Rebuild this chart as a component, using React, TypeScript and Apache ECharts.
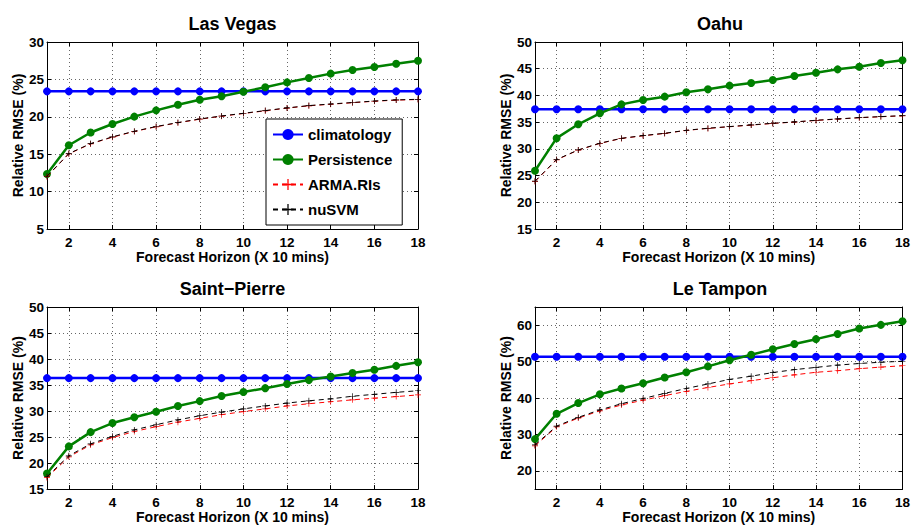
import React, { useEffect, useRef } from "react";
import * as echarts from "echarts";

const HORIZON = [1, 2, 3, 4, 5, 6, 7, 8, 9, 10, 11, 12, 13, 14, 15, 16, 17, 18];
const SITES = ["Las Vegas", "Oahu", "Saint\u2212Pierre", "Le Tampon"];
const SERIES_NAMES = ["climatology", "Persistence", "ARMA.RIs", "nuSVM"];

const LV_CLIM = [23.4, 23.4, 23.4, 23.4, 23.4, 23.4, 23.4, 23.4, 23.4, 23.4, 23.4, 23.4, 23.4, 23.4, 23.4, 23.4, 23.4, 23.4];
const LV_PERS = [12.35, 16.2, 17.9, 19.04, 20.02, 20.86, 21.62, 22.29, 22.74, 23.36, 23.94, 24.6, 25.19, 25.77, 26.26, 26.66, 27.1, 27.5];
const LV_ARMA = [12.0, 15.05, 16.38, 17.28, 18.04, 18.66, 19.2, 19.68, 20.08, 20.44, 20.8, 21.16, 21.47, 21.68, 21.88, 22.08, 22.23, 22.31];
const LV_SVM = [12.05, 15.08, 16.42, 17.32, 18.07, 18.7, 19.23, 19.71, 20.11, 20.47, 20.83, 21.19, 21.5, 21.71, 21.91, 22.11, 22.26, 22.34];

const OA_CLIM = [37.4, 37.4, 37.4, 37.4, 37.4, 37.4, 37.4, 37.4, 37.4, 37.4, 37.4, 37.4, 37.4, 37.4, 37.4, 37.4, 37.4, 37.4];
const OA_PERS = [25.9, 32.0, 34.6, 36.65, 38.33, 39.15, 39.77, 40.58, 41.14, 41.83, 42.33, 42.89, 43.64, 44.26, 44.88, 45.38, 46.07, 46.57];
const OA_ARMA = [23.9, 27.95, 29.77, 31.02, 31.95, 32.45, 32.89, 33.45, 33.83, 34.14, 34.45, 34.76, 35.01, 35.32, 35.57, 35.82, 36.01, 36.18];
const OA_SVM = [23.95, 28.0, 29.8, 31.05, 31.98, 32.48, 32.92, 33.48, 33.86, 34.17, 34.48, 34.79, 35.04, 35.35, 35.6, 35.85, 36.04, 36.21];

const SP_CLIM = [36.33, 36.33, 36.33, 36.33, 36.33, 36.33, 36.33, 36.33, 36.33, 36.33, 36.33, 36.33, 36.33, 36.33, 36.33, 36.33, 36.33, 36.33];
const SP_PERS = [18.0, 23.21, 25.95, 27.69, 28.81, 29.86, 30.98, 31.91, 32.91, 33.65, 34.4, 35.21, 35.95, 36.64, 37.32, 37.94, 38.69, 39.37];
const SP_ARMA = [17.2, 21.2, 23.5, 24.9, 26.07, 27.0, 27.87, 28.6, 29.3, 29.9, 30.42, 30.98, 31.41, 31.79, 32.16, 32.47, 32.78, 33.1];
const SP_SVM = [17.37, 21.4, 23.7, 25.14, 26.38, 27.37, 28.3, 29.1, 29.8, 30.42, 30.98, 31.54, 31.97, 32.35, 32.85, 33.22, 33.6, 33.9];

const LT_CLIM = [51.36, 51.36, 51.36, 51.36, 51.36, 51.36, 51.36, 51.36, 51.36, 51.36, 51.36, 51.36, 51.36, 51.36, 51.36, 51.36, 51.36, 51.36];
const LT_PERS = [28.73, 35.68, 38.62, 41.02, 42.63, 44.05, 45.66, 47.08, 48.69, 50.38, 51.9, 53.4, 54.83, 56.17, 57.6, 59.1, 60.1, 61.07];
const LT_ARMA = [26.86, 32.1, 34.5, 36.5, 38.1, 39.42, 40.67, 41.83, 42.9, 43.88, 44.77, 45.57, 46.37, 47.08, 47.5, 48.06, 48.5, 48.86];
const LT_SVM = [27.13, 32.3, 34.7, 36.75, 38.44, 39.87, 41.29, 42.63, 43.87, 45.12, 46.0, 47.0, 47.8, 48.42, 49.04, 49.49, 49.84, 50.1];

const Y_RANGES = [
  [5, 30],
  [15, 50],
  [15, 50],
  [15, 65],
];

const DATA = [
  [LV_CLIM, LV_PERS, LV_ARMA, LV_SVM],
  [OA_CLIM, OA_PERS, OA_ARMA, OA_SVM],
  [SP_CLIM, SP_PERS, SP_ARMA, SP_SVM],
  [LT_CLIM, LT_PERS, LT_ARMA, LT_SVM],
];

const FONT = "Liberation Sans, Arial, Helvetica, sans-serif";
const PLUS = "path://M3.55,0 H4.45 V3.55 H8 V4.45 H4.45 V8 H3.55 V4.45 H0 V3.55 H3.55 Z";

export default function App() {
  const ref = useRef<HTMLDivElement>(null);

  useEffect(() => {
    document.body.style.margin = "0";
    const chart = echarts.init(ref.current!, null, { renderer: "svg" });

    const grids = [
      { left: 47, top: 42, width: 371, height: 187 },
      { left: 535, top: 42, width: 370, height: 187 },
      { left: 47, top: 307, width: 371, height: 187 },
      { left: 535, top: 307, width: 370, height: 187 },
    ];

    const gridLine = { show: true, lineStyle: { color: "#666", type: [1, 3] as any, width: 1 } };
    const axisLabel = { color: "#000", fontWeight: "bold" as const, fontSize: 13.5, fontFamily: FONT };

    const xAxis: any[] = [];
    const yAxis: any[] = [];
    grids.forEach((_, i) => {
      xAxis.push({
        type: "value",
        gridIndex: i,
        min: 1,
        max: 18,
        splitNumber: 9,
        name: "Forecast Horizon (X 10 mins)",
        nameLocation: "middle",
        nameGap: 15,
        nameTextStyle: { color: "#000", fontWeight: "bold", fontSize: 14, fontFamily: FONT },
        axisLine: { show: true, lineStyle: { color: "#000", width: 1 } },
        axisTick: { show: true, inside: true, length: 4, lineStyle: { color: "#000" } },
        axisLabel: { ...axisLabel, margin: 6, showMinLabel: false },
        splitLine: gridLine,
      });
      xAxis.push({
        type: "value",
        gridIndex: i,
        position: "top",
        min: 1,
        max: 18,
        splitNumber: 9,
        axisLine: { show: true, lineStyle: { color: "#000", width: 1 } },
        axisTick: { show: true, inside: true, length: 4, lineStyle: { color: "#000" } },
        axisLabel: { show: false },
        splitLine: { show: false },
      });
      const [mn, mx] = Y_RANGES[i];
      yAxis.push({
        type: "value",
        gridIndex: i,
        min: mn,
        max: mx,
        splitNumber: i === 3 ? 5 : (mx - mn) / 5,
        name: "Relative RMSE (%)",
        nameLocation: "middle",
        nameGap: 22,
        nameTextStyle: { color: "#000", fontWeight: "bold", fontSize: 14, fontFamily: FONT },
        axisLine: { show: true, lineStyle: { color: "#000", width: 1 } },
        axisTick: { show: true, inside: true, length: 4, lineStyle: { color: "#000" } },
        axisLabel: { ...axisLabel, margin: 3, showMinLabel: i === 3 ? false : true, showMaxLabel: i === 3 ? false : true },
        splitLine: gridLine,
      });
      yAxis.push({
        type: "value",
        gridIndex: i,
        position: "right",
        min: mn,
        max: mx,
        splitNumber: i === 3 ? 5 : (mx - mn) / 5,
        axisLine: { show: true, lineStyle: { color: "#000", width: 1 } },
        axisTick: { show: true, inside: true, length: 4, lineStyle: { color: "#000" } },
        axisLabel: { show: false },
        splitLine: { show: false },
      });
    });

    const styles = [
      { color: "#0000ff", width: 2.5, type: "solid", symbol: "circle", size: 8 },
      { color: "#008000", width: 2.5, type: "solid", symbol: "circle", size: 8 },
      { color: "#ff0000", width: 1, type: [5, 4], symbol: PLUS, size: 6 },
      { color: "#000000", width: 1, type: [5, 4], symbol: PLUS, size: 6 },
    ];

    const series: any[] = [];
    DATA.forEach((site, gi) => {
      site.forEach((vals, si) => {
        const st = styles[si];
        series.push({
          type: "line",
          name: SERIES_NAMES[si],
          xAxisIndex: gi * 2,
          yAxisIndex: gi * 2,
          data: HORIZON.map((h, k) => [h, vals[k]]),
          symbol: st.symbol,
          symbolSize: st.size,
          showAllSymbol: true,
          lineStyle: { color: st.color, width: st.width, type: st.type },
          itemStyle: { color: st.color },
          z: si < 2 ? 2 + si : 4 + si,
        });
      });
    });

    const titlePos = [
      [232.5, 24],
      [720, 24],
      [232.5, 289],
      [720, 289],
    ];

    chart.setOption({
      animation: false,
      grid: grids.map((g) => ({ ...g, containLabel: false })),
      xAxis,
      yAxis,
      legend: {
        data: SERIES_NAMES,
        orient: "vertical",
        left: 266,
        top: 119,
        itemWidth: 30,
        itemHeight: 14,
        itemGap: 10,
        padding: [8, 10, 8, 6],
        borderColor: "#000",
        borderWidth: 1,
        backgroundColor: "#fff",
        textStyle: { color: "#000", fontWeight: "bold", fontSize: 15, fontFamily: FONT },
      },
      graphic: SITES.map((s, i) => ({
        type: "text",
        x: titlePos[i][0],
        y: titlePos[i][1],
        style: {
          text: s,
          fill: "#000",
          font: `bold 18px ${FONT}`,
          textAlign: "center",
          textVerticalAlign: "middle",
        },
      })),
      series,
    });

    return () => chart.dispose();
  }, []);

  return <div ref={ref} style={{ width: 913, height: 525 }} />;
}
